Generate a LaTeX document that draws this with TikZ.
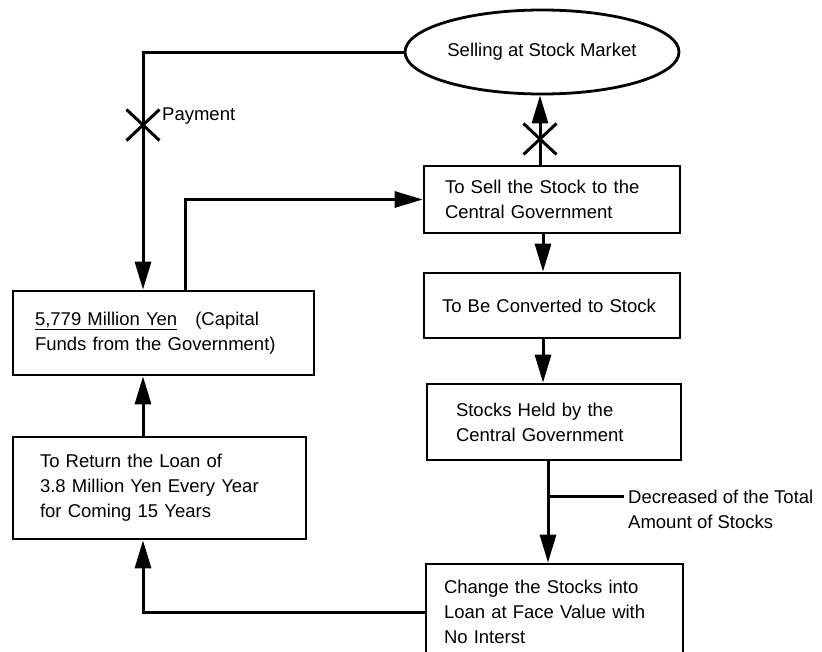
\documentclass[tikz,border=0pt]{standalone}
\usepackage{fontspec}
\setmainfont{Liberation Sans}
\usetikzlibrary{arrows.meta,shapes.geometric,shapes.misc}
\begin{document}
\begin{tikzpicture}[x=1pt,y=-1pt,
  font=\fontsize{18.5}{25}\selectfont,
  box/.style={draw,line width=2.6pt,rectangle,align=left,inner ysep=0pt},
  conn/.style={line width=3pt},
  arr/.style={conn,-{Triangle[length=28pt,width=16pt]}},
  xmark/.style={cross out,draw,line width=3pt,minimum width=30pt,minimum height=28pt,inner sep=0pt},
  lbl/.style={anchor=west,align=left,inner sep=0pt}]
\clip (0,0) rectangle (822,651);
\fill[white] (0,0) rectangle (822,651);
% column coordinates
\coordinate (xl) at (143,0);
\coordinate (xc) at (185,0);
\coordinate (xs) at (540,0);
\coordinate (xa) at (543,0);
\coordinate (xb) at (548,0);
% nodes
\node[draw,ellipse,line width=2.8pt,minimum width=274pt,minimum height=84pt,inner sep=0pt] (mk) at (542,52) {Selling at Stock Market};
\node[box,text width=214pt,inner xsep=21pt,minimum height=67pt] (sell) at (552,199.5) {To Sell the Stock to the\\Central Government};
\node[box,text width=220pt,inner xsep=18pt,minimum height=65pt] (conv) at (552,305.5) {To Be Converted to Stock};
\node[box,text width=196pt,inner xsep=29pt,minimum height=76pt] (held) at (554,422) {Stocks Held by the\\Central Government};
\node[box,text width=221pt,inner xsep=18pt,minimum height=96pt] (chg) at (554.5,612) {Change the Stocks into\\Loan at Face Value with\\No Interst};
\node[box,text width=257pt,inner xsep=22pt,minimum height=84pt] (cap) at (163.5,333) {\underline{5,779 Million Yen}\hspace{18pt}(Capital\\Funds from the Government)};
\node[box,text width=239pt,inner xsep=27pt,minimum height=102pt] (ret) at (159.5,488) {To Return the Loan of\\3.8 Million Yen Every Year\\for Coming 15 Years};
% connectors
\draw[arr] (mk.west) -| (cap.north -| xl);
\draw[arr] (cap.north -| xc) |- (sell.west);
\draw[arr] (sell.north -| xs) -- (mk.south -| xs);
\draw[arr] (sell.south -| xa) -- (conv.north -| xa);
\draw[arr] (conv.south -| xa) -- (held.north -| xa);
\draw[arr] (held.south -| xb) -- (chg.north -| xb);
\draw[arr] (chg.west) -| (ret.south -| xl);
\draw[arr] (ret.north -| xl) -- (cap.south -| xl);
% branch label
\coordinate (br) at (548,496);
\coordinate (bre) at (624,496);
\draw[conn] (br) -- (bre);
\node[lbl] (dec) at (628,509.5) {Decreased of the Total\\Amount of Stocks};
% cross marks and payment label
\node[xmark] (xpay) at (143,125) {};
\node[xmark] (xsell) at (540,139) {};
\node[lbl] (pay) at (162,116) {Payment};
\end{tikzpicture}
\end{document}
